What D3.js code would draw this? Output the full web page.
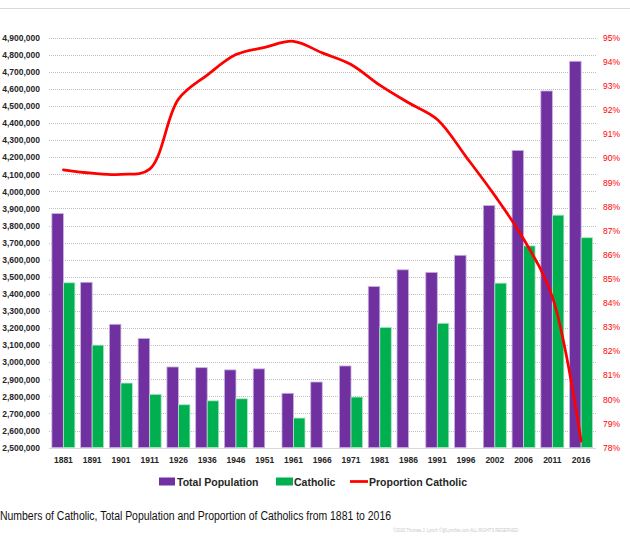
<!DOCTYPE html>
<html>
<head>
<meta charset="utf-8">
<script src="https://cdn.jsdelivr.net/npm/d3@7"></script>
<style>
  body { margin: 0; background: #fff; }
  svg { display: block; font-family: "Liberation Sans", Arial, sans-serif; }
</style>
</head>
<body>
<div id="chart"></div>
<script>
var years = ["1881","1891","1901","1911","1926","1936","1946","1951","1961","1966",
             "1971","1981","1986","1991","1996","2002","2006","2011","2016"];
var totalPop = [3870000, 3468000, 3222000, 3139000, 2972000, 2968000, 2955000, 2961000, 2818000, 2884000,
                2978000, 3443000, 3541000, 3526000, 3626000, 3917000, 4240000, 4588000, 4762000];
var catholic = [3465000, 3100000, 2878000, 2812000, 2751000, 2774000, 2786000, null, 2673000, null,
                2796000, 3204000, null, 3228000, null, 3463000, 3681000, 3861000, 3729000];
var propCatholic = [89.52, 89.38, 89.33, 89.55, 92.45, 93.45, 94.3, 94.6, 94.85, 94.37,
                    93.89, 93.03, 92.3, 91.61, 90.06, 88.45, 86.65, 84.25, 78.27];
var leftTicks = d3.range(2500000, 4900001, 100000);
var rightTicks = d3.range(78, 96, 1);

var purple = "#7030a0", green = "#00b050", red = "#ff0000";

var svg = d3.select("#chart").append("svg")
  .attr("width", 630)
  .attr("height", 540);

// thin rule at the top
svg.append("line")
  .attr("x1", 0).attr("x2", 630)
  .attr("y1", 8.5).attr("y2", 8.5)
  .attr("stroke", "#d9d9d9");

var x = d3.scaleBand()
  .domain(years)
  .range([49, 595.5])
  .paddingInner(0.2)
  .paddingOuter(0.1);

var xSub = d3.scaleBand()
  .domain(["total", "catholic"])
  .range([0, x.bandwidth()]);

var yL = d3.scaleLinear().domain([2500000, 4900000]).range([447.6, 37.7]);
var yR = d3.scaleLinear().domain([78, 95]).range([447.6, 37.7]);

// dotted gridlines
svg.append("g")
  .selectAll("line")
  .data(leftTicks.slice(1))
  .enter()
  .append("line")
  .attr("x1", 49).attr("x2", 596)
  .attr("y1", function(d){ return Math.round(yL(d)) + 0.5; })
  .attr("y2", function(d){ return Math.round(yL(d)) + 0.5; })
  .attr("stroke", "#bfbfbf")
  .attr("stroke-dasharray", "1,1");

// left axis
var leftAxis = d3.axisLeft(yL)
  .tickValues(leftTicks)
  .tickSize(0)
  .tickPadding(0)
  .tickFormat(d3.format(",.0f"));

var gL = svg.append("g")
  .attr("transform", "translate(40,0)")
  .call(leftAxis);
gL.select(".domain").remove();
gL.selectAll("text")
  .attr("fill", "#262626")
  .style("font-size", "8.5px")
  .style("font-weight", "bold")
  .style("font-family", "'Liberation Sans', Arial, sans-serif");

// right axis
var rightAxis = d3.axisRight(yR)
  .tickValues(rightTicks)
  .tickSize(0)
  .tickPadding(0)
  .tickFormat(function(d){ return d + "%"; });

var gR = svg.append("g")
  .attr("transform", "translate(603,0)")
  .call(rightAxis);
gR.select(".domain").remove();
gR.selectAll("text")
  .attr("fill", red)
  .style("font-size", "8.5px")
  .style("font-family", "'Liberation Sans', Arial, sans-serif");

// bars
var groups = svg.append("g")
  .selectAll("g")
  .data(years)
  .enter()
  .append("g")
  .attr("transform", function(d){ return "translate(" + x(d) + ",0)"; });

groups.append("rect")
  .attr("x", xSub("total"))
  .attr("width", xSub.bandwidth())
  .attr("y", function(d, i){ return yL(totalPop[i]); })
  .attr("height", function(d, i){ return yL(2500000) - yL(totalPop[i]); })
  .attr("fill", purple)
  .attr("stroke", "#c7b3dc")
  .attr("stroke-width", 0.8);

groups.filter(function(d, i){ return catholic[i] != null; })
  .append("rect")
  .attr("x", xSub("catholic"))
  .attr("width", xSub.bandwidth())
  .attr("y", function(d){ return yL(catholic[years.indexOf(d)]); })
  .attr("height", function(d){ return yL(2500000) - yL(catholic[years.indexOf(d)]); })
  .attr("fill", green)
  .attr("stroke", "#b3e6c9")
  .attr("stroke-width", 0.8);

// x axis
var xAxis = d3.axisBottom(x).tickSize(0).tickPadding(9);
var gX = svg.append("g")
  .attr("transform", "translate(0,448)")
  .call(xAxis);
gX.select(".domain")
  .attr("stroke", "#d9d9d9")
  .attr("d", "M49,0.5H596");
gX.selectAll("text")
  .attr("fill", "#262626")
  .style("font-size", "8.5px")
  .style("font-weight", "bold")
  .style("font-family", "'Liberation Sans', Arial, sans-serif");

// proportion line
var line = d3.line()
  .x(function(d, i){ return x(years[i]) + x.bandwidth() / 2; })
  .y(function(d){ return yR(d); })
  .curve(d3.curveCatmullRom.alpha(0.5));

svg.append("path")
  .datum(propCatholic)
  .attr("d", line)
  .attr("fill", "none")
  .attr("stroke", red)
  .attr("stroke-width", 2.75)
  .attr("stroke-linecap", "round");

// legend
var legend = svg.append("g").attr("font-weight", "bold").attr("font-size", "10.5px").attr("fill", "#262626");
legend.append("rect").attr("x", 159).attr("y", 477.5).attr("width", 16).attr("height", 8).attr("fill", purple);
legend.append("text").attr("x", 177).attr("y", 485.5).text("Total Population");
legend.append("rect").attr("x", 276).attr("y", 477.5).attr("width", 17).attr("height", 8).attr("fill", green);
legend.append("text").attr("x", 294).attr("y", 485.5).text("Catholic");
legend.append("line").attr("x1", 350).attr("x2", 368).attr("y1", 481.5).attr("y2", 481.5)
  .attr("stroke", red).attr("stroke-width", 2.75);
legend.append("text").attr("x", 369).attr("y", 485.5).text("Proportion Catholic");

// caption
svg.append("text")
  .attr("x", 0)
  .attr("y", 520)
  .attr("font-size", "12px")
  .attr("fill", "#111")
  .attr("textLength", 391)
  .attr("lengthAdjust", "spacingAndGlyphs")
  .text("Numbers of Catholic, Total Population and Proportion of Catholics from 1881 to 2016");

svg.append("text")
  .attr("x", 393)
  .attr("y", 532)
  .attr("font-size", "4.5px")
  .attr("fill", "#c8c8c8")
  .attr("textLength", 125)
  .attr("lengthAdjust", "spacingAndGlyphs")
  .text("©2020 Thomas J. Lynch ©@Lynchie.com ALL RIGHTS RESERVED");
</script>
</body>
</html>
